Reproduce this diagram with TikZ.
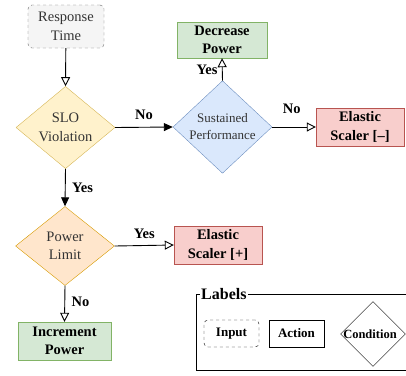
\documentclass[tikz,border=0pt]{standalone}
\usepackage{fontspec}
\setmainfont{Liberation Serif}
\usetikzlibrary{shapes.geometric,arrows.meta}
\definecolor{grayF}{HTML}{F5F5F5}\definecolor{grayS}{HTML}{666666}
\definecolor{yelF}{HTML}{FFF2CC}\definecolor{yelS}{HTML}{D6B656}
\definecolor{bluF}{HTML}{DAE8FC}\definecolor{bluS}{HTML}{6C8EBF}
\definecolor{grnF}{HTML}{D5E8D4}\definecolor{grnS}{HTML}{82B366}
\definecolor{redF}{HTML}{F8CECC}\definecolor{redS}{HTML}{B85450}
\definecolor{orF}{HTML}{FFE6CC}\definecolor{orS}{HTML}{D79B00}
\definecolor{txt}{HTML}{333333}
\begin{document}
\begin{tikzpicture}[x=1pt,y=-1pt,
  inbox/.style={draw=grayS,fill=grayF,dashed,rounded corners=4pt,minimum width=76pt,minimum height=43pt,inner sep=0pt,align=center,text=txt,font=\fontsize{14.5}{18.5}\selectfont},
  cond/.style={diamond,draw=#1S,fill=#1F,minimum width=99pt,minimum height=79pt,inner sep=0pt,align=center,text=txt,font=\fontsize{14.5}{18.5}\selectfont},
  act/.style={draw=#1S,fill=#1F,minimum height=38pt,inner sep=0pt,align=center,font=\bfseries\fontsize{14.5}{18.5}\selectfont},
  lbl/.style={font=\bfseries\fontsize{14.5}{16}\selectfont},
  openarr/.style={-{Triangle[open,length=9pt,width=9pt]},line width=0.9pt},
  fillarr/.style={-{Triangle[length=9pt,width=8pt]},line width=0.9pt}]
\useasboundingbox (0,0) rectangle (406,375);
\node[inbox] (rt) at (66,26.5) {Response\\Time};
\node[cond=yel] (slo) at (65.5,127.5) {SLO\\Violation};
\node[cond=blu,font=\fontsize{13}{17}\selectfont] (sus) at (222.5,127) {Sustained\\Performance};
\node[act=grn,minimum width=90pt,minimum height=36pt] (dec) at (222,40) {Decrease\\Power};
\node[act=red,minimum width=88pt] (esm) at (360,127) {Elastic\\Scaler [--]};
\node[cond=or] (pl) at (65,246) {Power\\Limit};
\node[act=red,minimum width=88pt] (esp) at (218,245) {Elastic\\Scaler [+]};
\node[act=grn,minimum width=93pt] (inc) at (64.5,341) {Increment\\Power};
\draw[openarr] (rt) -- (slo.north);
\draw[fillarr] (slo.east) -- node[lbl,above=4pt]{No} (sus.west);
\draw[openarr] (sus.north) -- node[lbl,left=1pt]{Yes} (dec.south);
\draw[openarr] (sus.east) -- node[lbl,above=10pt,pos=0.45]{No} (esm.west);
\draw[fillarr] (slo.south) -- node[lbl,right=3pt]{Yes} (pl.north);
\draw[openarr] (pl.east) -- node[lbl,above=3pt]{Yes} (esp.west);
\draw[openarr] (pl.south) -- node[lbl,right=3pt,pos=0.45]{No} (inc.north);
% legend
\coordinate (lbA) at (196,294);
\coordinate (lbB) at (420,370);
\draw[line width=0.9pt] (lbA) rectangle (lbB);
\node[font=\bfseries\fontsize{16}{18}\selectfont,fill=white,inner sep=1pt,anchor=west] (lbt) at (200,294) {Labels};
\node[draw,dashed,rounded corners=4pt,minimum width=55pt,minimum height=27pt,font=\bfseries\fontsize{13}{15}\selectfont] (lin) at (231.5,333.5) {Input};
\node[draw,minimum width=55pt,minimum height=27pt,font=\bfseries\fontsize{13}{15}\selectfont] (lac) at (296.5,333.5) {Action};
\node[diamond,draw,minimum width=65pt,minimum height=65pt,inner sep=0pt,font=\bfseries\fontsize{12.5}{15}\selectfont] (lco) at (373,334) {\hspace{-6pt}Condition\hspace{-6pt}};
\end{tikzpicture}
\end{document}
